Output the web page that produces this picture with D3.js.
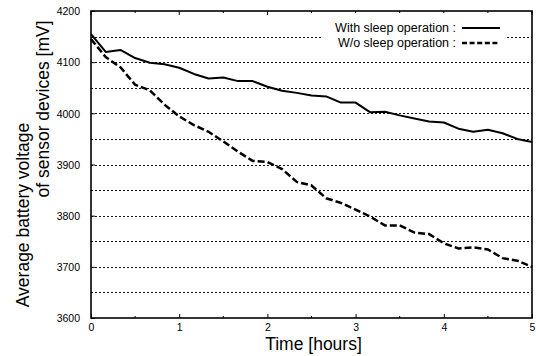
<!DOCTYPE html>
<html>
<head>
<meta charset="utf-8">
<script src="https://cdn.jsdelivr.net/npm/d3@7"></script>
<style>
  body { margin: 0; background: #fff; }
  svg { display: block; font-family: "Liberation Sans", Arial, sans-serif; }
</style>
</head>
<body>
<svg id="chart"></svg>
<script>
// sampling times, minutes
const minutes = [0, 10, 20, 30, 40, 50, 60, 70, 80, 90, 100, 110, 120, 130, 140, 150,
  160, 170, 180, 190, 200, 210, 220, 230, 240, 250, 260, 270, 280, 290, 300]

// average battery voltage [mV]
const withSleep = [4155, 4120, 4124, 4108, 4099, 4096, 4089, 4077, 4068, 4070, 4063,
  4063, 4052, 4044, 4040, 4035, 4033, 4021, 4021, 4002, 4003, 3996, 3990, 3984,
  3982, 3970, 3964, 3968, 3961, 3950, 3944]
const withoutSleep = [4145, 4110, 4090, 4056, 4045, 4017, 3994, 3977, 3964, 3945, 3925,
  3907, 3905, 3891, 3866, 3859, 3834, 3825, 3812, 3798, 3781, 3781, 3767, 3764,
  3746, 3736, 3738, 3734, 3717, 3712, 3700]

const xTickValues = [0, 60, 120, 180, 240, 300]
const xTickLabels = ["0", "1", "2", "3", "4", "5"]
const xMinorTicks = [30, 90, 150, 210, 270]
const yTickValues = [3600, 3700, 3800, 3900, 4000, 4100, 4200]
const yGridValues = [3650, 3700, 3750, 3800, 3850, 3900, 3950, 4000, 4050, 4100, 4150]

const seriesNames = ["With sleep operation :", "W/o sleep operation :"]

let width = 536
let height = 356
let margin = { top: 11, right: 4, bottom: 38, left: 91 }
let bodyWidth = width - margin.left - margin.right
let bodyHeight = height - margin.top - margin.bottom

let svg = d3.select("#chart")
    .attr("width", width)
    .attr("height", height)

let xScale = d3.scaleLinear()
    .domain([0, 300])
    .range([0, bodyWidth])

let yScale = d3.scaleLinear()
    .domain([3600, 4200])
    .range([bodyHeight, 0])

let body = svg.append("g")
    .attr("transform", `translate(${margin.left},${margin.top})`)

// dotted grid
body.selectAll(".grid")
    .data(yGridValues)
    .enter()
    .append("line")
    .attr("x1", 0)
    .attr("x2", bodyWidth)
    .attr("y1", d => Math.round(yScale(d)) + 0.5)
    .attr("y2", d => Math.round(yScale(d)) + 0.5)
    .attr("stroke", "#111")
    .attr("stroke-width", 1)
    .attr("stroke-dasharray", "2,2")

// axes
let xAxis = d3.axisBottom(xScale)
    .tickValues(xTickValues)
    .tickSize(-4)
    .tickPadding(6)
    .tickFormat((d, i) => xTickLabels[i])

let gx = body.append("g")
    .attr("transform", `translate(0,${bodyHeight})`)
    .call(xAxis)

let yAxis = d3.axisLeft(yScale)
    .tickValues(yTickValues)
    .tickSize(-4)
    .tickPadding(11)
    .tickFormat(d3.format("d"))

let gy = body.append("g")
    .call(yAxis)

for (let g of [gx, gy]) {
    g.select(".domain").remove()
    g.selectAll("text")
        .attr("font-size", "10.5px")
        .attr("font-family", "Liberation Sans, Arial, sans-serif")
        .attr("fill", "#000")
}
gy.selectAll("text").attr("dy", "0.36em")

// minor and mirrored ticks
body.selectAll(".minor-bottom")
    .data(xMinorTicks)
    .enter()
    .append("line")
    .attr("x1", d => xScale(d))
    .attr("x2", d => xScale(d))
    .attr("y1", bodyHeight)
    .attr("y2", bodyHeight - 2)
    .attr("stroke", "#000")

body.selectAll(".ticks-top")
    .data(xTickValues.concat(xMinorTicks))
    .enter()
    .append("line")
    .attr("x1", d => xScale(d))
    .attr("x2", d => xScale(d))
    .attr("y1", 0)
    .attr("y2", d => xMinorTicks.includes(d) ? 2 : 4)
    .attr("stroke", "#000")

// frame
body.append("rect")
    .attr("x", 0)
    .attr("y", 0)
    .attr("width", bodyWidth)
    .attr("height", bodyHeight)
    .attr("fill", "none")
    .attr("stroke", "#000")
    .attr("stroke-width", 1.6)

// lines
let line = d3.line()
    .x((d, i) => xScale(minutes[i]))
    .y(d => yScale(d))

body.append("path")
    .datum(withSleep)
    .attr("d", line)
    .attr("fill", "none")
    .attr("stroke", "#000")
    .attr("stroke-width", 2)
    .attr("stroke-linejoin", "round")

body.append("path")
    .datum(withoutSleep)
    .attr("d", line)
    .attr("fill", "none")
    .attr("stroke", "#000")
    .attr("stroke-width", 2.5)
    .attr("stroke-dasharray", "7,3")

// legend
let legend = svg.append("g")

legend.append("rect")
    .attr("x", 322)
    .attr("y", 13)
    .attr("width", 183)
    .attr("height", 38)
    .attr("fill", "#fff")

legend.selectAll("text")
    .data(seriesNames)
    .enter()
    .append("text")
    .attr("x", 456)
    .attr("y", (d, i) => 31.5 + i * 15)
    .attr("text-anchor", "end")
    .attr("font-size", "12.5px")
    .text(d => d)

legend.selectAll(".sample")
    .data(seriesNames)
    .enter()
    .append("line")
    .attr("x1", 462)
    .attr("x2", 500)
    .attr("y1", (d, i) => 28 + i * 15)
    .attr("y2", (d, i) => 28 + i * 15)
    .attr("stroke", "#000")
    .attr("stroke-width", (d, i) => i == 0 ? 2 : 2.5)
    .attr("stroke-dasharray", (d, i) => i == 0 ? null : "5,2.6")

// axis titles
svg.append("text")
    .attr("x", margin.left + bodyWidth / 2 + 2)
    .attr("y", 350)
    .attr("text-anchor", "middle")
    .attr("font-size", "17.5px")
    .text("Time [hours]")

svg.append("text")
    .attr("transform", "translate(29,215) rotate(-90)")
    .attr("text-anchor", "middle")
    .attr("font-size", "17.5px")
    .text("Average battery voltage")

svg.append("text")
    .attr("transform", "translate(49,109) rotate(-90)")
    .attr("text-anchor", "middle")
    .attr("font-size", "17.5px")
    .text("of sensor devices [mV]")
</script>
</body>
</html>
